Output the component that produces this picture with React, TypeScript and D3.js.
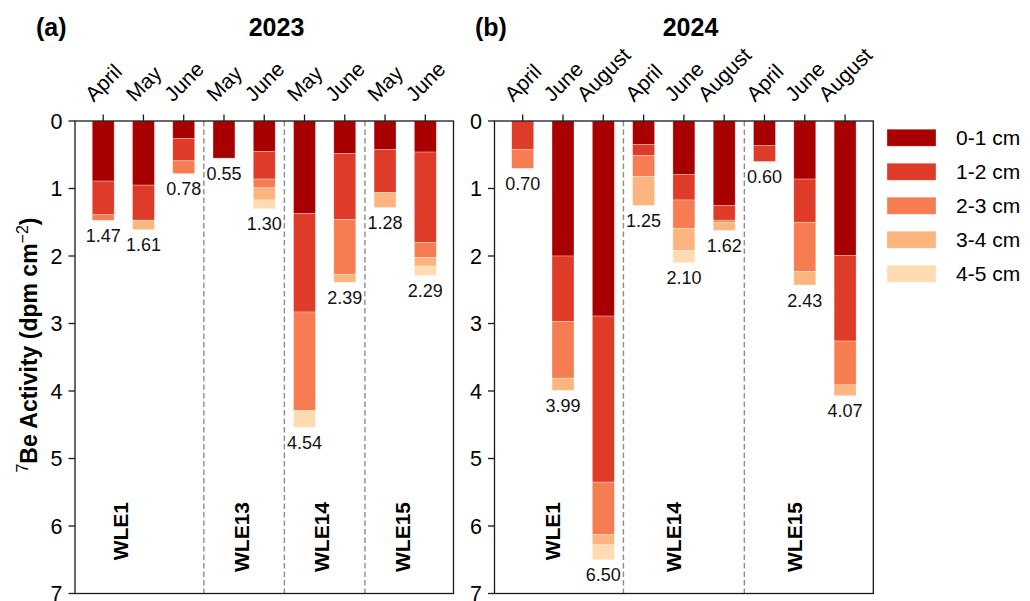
import React from "react";
import * as d3 from "d3";

const layers = ["0-1 cm", "1-2 cm", "2-3 cm", "3-4 cm", "4-5 cm"];
const colors = ["#a80000", "#de3b28", "#f67c52", "#fdb57f", "#fedbb0"];

// Panel (a) 2023
const monthsA = ["April", "May", "June", "May", "June", "May", "June", "May", "June"];
const sitesA = ["WLE1", "WLE13", "WLE14", "WLE15"];
const siteStartA = [0, 3, 5, 7];
const a0_1 = [0.89, 0.95, 0.26, 0.55, 0.45, 1.37, 0.48, 0.42, 0.46];
const a1_2 = [0.5, 0.52, 0.33, 0, 0.41, 1.46, 0.98, 0.64, 1.34];
const a2_3 = [0.08, 0, 0.19, 0, 0.13, 1.46, 0.81, 0, 0.22];
const a3_4 = [0, 0.14, 0, 0, 0.18, 0, 0.12, 0.22, 0.13];
const a4_5 = [0, 0, 0, 0, 0.13, 0.25, 0, 0, 0.14];

// Panel (b) 2024
const monthsB = ["April", "June", "August", "April", "June", "August", "April", "June", "August"];
const sitesB = ["WLE1", "WLE14", "WLE15"];
const siteStartB = [0, 3, 6];
const b0_1 = [0, 2.0, 2.89, 0.35, 0.79, 1.25, 0.36, 0.86, 1.99];
const b1_2 = [0.42, 0.97, 2.46, 0.16, 0.38, 0.22, 0.24, 0.64, 1.27];
const b2_3 = [0.28, 0.84, 0.78, 0.31, 0.42, 0.03, 0, 0.73, 0.65];
const b3_4 = [0, 0.18, 0.15, 0.43, 0.33, 0.12, 0, 0.2, 0.16];
const b4_5 = [0, 0, 0.22, 0, 0.18, 0, 0, 0, 0];

const yTicks = [0, 1, 2, 3, 4, 5, 6, 7];

const FONT = "'Liberation Sans', Arial, Helvetica, sans-serif";

let ctx: CanvasRenderingContext2D | null = null;
function textWidth(s: string, size: number, weight = "normal") {
  if (!ctx) {
    const c = document.createElement("canvas");
    ctx = c.getContext("2d");
  }
  if (!ctx) return s.length * size * 0.55;
  ctx.font = `${weight} ${size}px 'Liberation Sans', Arial, sans-serif`;
  return ctx.measureText(s).width;
}

type PanelProps = {
  left: number;
  right: number;
  months: string[];
  series: number[][];
  sites: string[];
  siteStart: number[];
  siteOffset: number;
};

const top = 121;
const bottom = 593.5;
const y = d3.scaleLinear().domain([0, 7]).range([top, bottom]);
const fmt = d3.format(".2f");

function Panel({ left, right, months, series, sites, siteStart, siteOffset }: PanelProps) {
  const n = months.length;
  const x = d3.scaleLinear().domain([-0.7, n - 0.3]).range([left, right]);
  const bw = 0.545 * (x(1) - x(0));
  const stacked = months.map((_, i) => {
    let acc = 0;
    return series.map((s, k) => {
      const y0 = acc;
      acc += s[i];
      return { k, y0, y1: acc, v: s[i] };
    });
  });
  const totals = months.map((_, i) => d3.sum(series, (s) => s[i]));
  const dividers = siteStart.slice(1).map((s) => s - 0.5);
  const monthFs = 21;
  return (
    <g>
      {stacked.map((segs, i) =>
        segs
          .filter((s) => s.v > 0)
          .map((s) => (
            <rect
              key={`${i}-${s.k}`}
              x={x(i) - bw / 2}
              y={y(s.y0)}
              width={bw}
              height={y(s.y1) - y(s.y0)}
              fill={colors[s.k]}
              stroke="#ffffff"
              strokeOpacity={0.5}
              strokeWidth={0.6}
            />
          ))
      )}
      {dividers.map((d, i) => (
        <line
          key={i}
          x1={x(d)}
          x2={x(d)}
          y1={top}
          y2={bottom}
          stroke="#8c8c8c"
          strokeWidth={1.4}
          strokeDasharray="5.5,3"
        />
      ))}
      {totals.map((t, i) => (
        <text
          key={i}
          x={x(i)}
          y={y(t) + 21.5}
          textAnchor="middle"
          fontSize={18}
          fontFamily={FONT}
          fill="#111"
        >
          {fmt(t)}
        </text>
      ))}
      {sites.map((s, i) => {
        const px = x(siteStart[i] + siteOffset) + 7.5;
        return (
          <text
            key={s}
            transform={`translate(${px},502) rotate(-90)`}
            textAnchor="end"
            fontSize={21}
            fontWeight="bold"
            fontFamily={FONT}
            fill="#000"
          >
            {s}
          </text>
        );
      })}
      <rect x={left} y={top} width={right - left} height={bottom - top} fill="none" stroke="#1a1a1a" strokeWidth={1.3} />
      {months.map((m, i) => {
        const w = textWidth(m, monthFs);
        const h = monthFs * 0.75;
        const half = ((w + h) * Math.SQRT1_2) / 2;
        const cy = 103 - half;
        return (
          <g key={i}>
            <line x1={x(i)} x2={x(i)} y1={top} y2={top - 6.5} stroke="#1a1a1a" strokeWidth={1.3} />
            <text
              transform={`translate(${x(i)},${cy}) rotate(-45)`}
              textAnchor="middle"
              dy="0.36em"
              fontSize={monthFs}
              fontFamily={FONT}
              fill="#000"
            >
              {m}
            </text>
          </g>
        );
      })}
      {yTicks.map((t) => (
        <g key={t}>
          <line x1={left} x2={left - 6.5} y1={y(t)} y2={y(t)} stroke="#1a1a1a" strokeWidth={1.3} />
          <text x={left - 12.5} y={y(t)} dy="0.36em" textAnchor="end" fontSize={21.5} fontFamily={FONT} fill="#000">
            {t}
          </text>
        </g>
      ))}
    </g>
  );
}

export default function App() {
  const seriesA = [a0_1, a1_2, a2_3, a3_4, a4_5];
  const seriesB = [b0_1, b1_2, b2_3, b3_4, b4_5];
  return (
    <svg
      width={1030}
      height={601}
      style={{ position: "absolute", left: 0, top: 0, background: "#fff" }}
      fontFamily={FONT}
    >
      <rect x={0} y={0} width={1030} height={601} fill="#fff" />
      <Panel
        left={75}
        right={453.5}
        months={monthsA}
        series={seriesA}
        sites={sitesA}
        siteStart={siteStartA}
        siteOffset={0.43}
      />
      <Panel
        left={494.5}
        right={873.3}
        months={monthsB}
        series={seriesB}
        sites={sitesB}
        siteStart={siteStartB}
        siteOffset={0.75}
      />
      <text x={36} y={36} fontSize={25} fontWeight="bold" fill="#000">(a)</text>
      <text x={276.5} y={36} fontSize={25} fontWeight="bold" textAnchor="middle" fill="#000">2023</text>
      <text x={475} y={36} fontSize={25} fontWeight="bold" fill="#000">(b)</text>
      <text x={690.5} y={36} fontSize={25} fontWeight="bold" textAnchor="middle" fill="#000">2024</text>
      <text transform="translate(36.5,345) rotate(-90)" textAnchor="middle" fontSize={23} fontWeight="bold" fill="#000">
        <tspan fontSize={16} fontWeight="normal" dy={-9}>7</tspan>
        <tspan dy={9}>Be Activity (dpm cm</tspan>
        <tspan fontSize={16} fontWeight="normal" dy={-9}>−2</tspan>
        <tspan dy={9}>)</tspan>
      </text>
      {layers.map((l, i) => {
        const cy = 137.7 + i * 34;
        return (
          <g key={l}>
            <rect x={887} y={cy - 8.5} width={49} height={17} fill={colors[i]} stroke="#ffffff" strokeOpacity={0.5} strokeWidth={0.6} />
            <text x={956} y={cy} dy="0.36em" fontSize={21} fill="#000">
              {l}
            </text>
          </g>
        );
      })}
    </svg>
  );
}
